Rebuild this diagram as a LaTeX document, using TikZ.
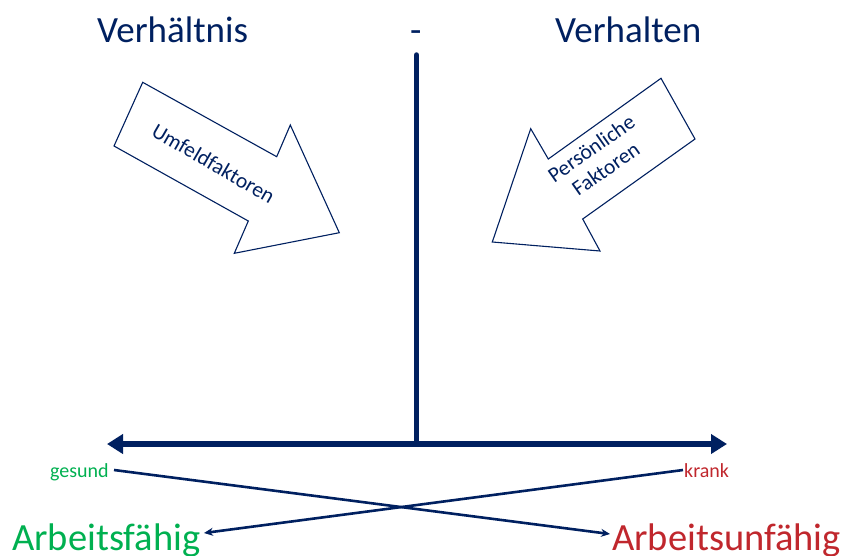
\documentclass[tikz,border=0pt]{standalone}
\usepackage{fontspec}
\setmainfont{Carlito}
\usetikzlibrary{arrows.meta}
\definecolor{navy}{HTML}{002060}
\definecolor{okgreen}{HTML}{00B050}
\definecolor{badred}{RGB}{192,39,45}
\tikzset{
  title/.style={text=navy, font=\fontsize{37}{44}\selectfont, inner sep=0pt, anchor=base west},
  big/.style={font=\fontsize{38.5}{44}\selectfont, inner sep=0pt, anchor=base west},
  small/.style={font=\fontsize{20}{24}\selectfont, inner sep=0pt, anchor=base west},
  blockarrow/.style={draw=navy, line width=1.1pt, fill=white, line join=miter},
  arrowtext/.style={text=navy, font=\fontsize{21.5}{25}\selectfont, inner sep=0pt, align=center},
  axis/.style={draw=navy, line width=5.5pt},
  cross/.style={draw=navy, line width=2.6pt, -{Stealth[length=9pt,width=8pt]}}
}
\begin{document}
\begin{tikzpicture}[x=1pt,y=-1pt]
\useasboundingbox (0,0) rectangle (842,555);
% titles
\node[title] (verh) at (97,42.7) {Verhältnis};
\node[title] (dash) at (410,42.7) {-};
\node[title] (verha) at (555,42.7) {Verhalten};
% block arrows
\draw[blockarrow] (142.7,82.3) -- (276.7,156.7) -- (290.3,125) -- (339.3,232.7) -- (234.3,253.3) -- (248.3,221) -- (114,146) -- cycle;
\node[arrowtext, rotate=-30] (umf) at (213.5,163.5) {Umfeldfaktoren};
\draw[blockarrow] (661,78.3) -- (695,139) -- (582.7,219) -- (600,251) -- (492.3,242) -- (530.7,128.7) -- (548.3,159) -- cycle;
\node[arrowtext, rotate=35] (pers) at (598.5,158.5) {Persönliche\\Faktoren};
% axes
\coordinate (vtop) at (416.5,55);
\coordinate (vbot) at (416.5,444);
\coordinate (hl) at (107,444);
\coordinate (hr) at (727,444);
\draw[axis, line cap=round] (vtop) -- ([yshift=2pt]vbot);
\draw[axis, {Triangle[length=16pt,width=19pt]}-{Triangle[length=16pt,width=19pt]}] (hl) -- (hr);
% labels
\node[small, text=okgreen] (gesund) at (50,477) {gesund};
\node[small, text=badred] (krank) at (684,477) {krank};
\node[big, text=okgreen] (af) at (12,550) {Arbeitsfähig};
\node[big, text=badred] (auf) at (612,550) {Arbeitsunfähig};
% crossing connectors
\coordinate (gs) at (114,470);
\coordinate (kr) at (683,470);
\coordinate (aft) at (204,533);
\coordinate (auft) at (610,534);
\draw[cross] (gs) -- (auft);
\draw[cross] (kr) -- (aft);
\end{tikzpicture}
\end{document}
